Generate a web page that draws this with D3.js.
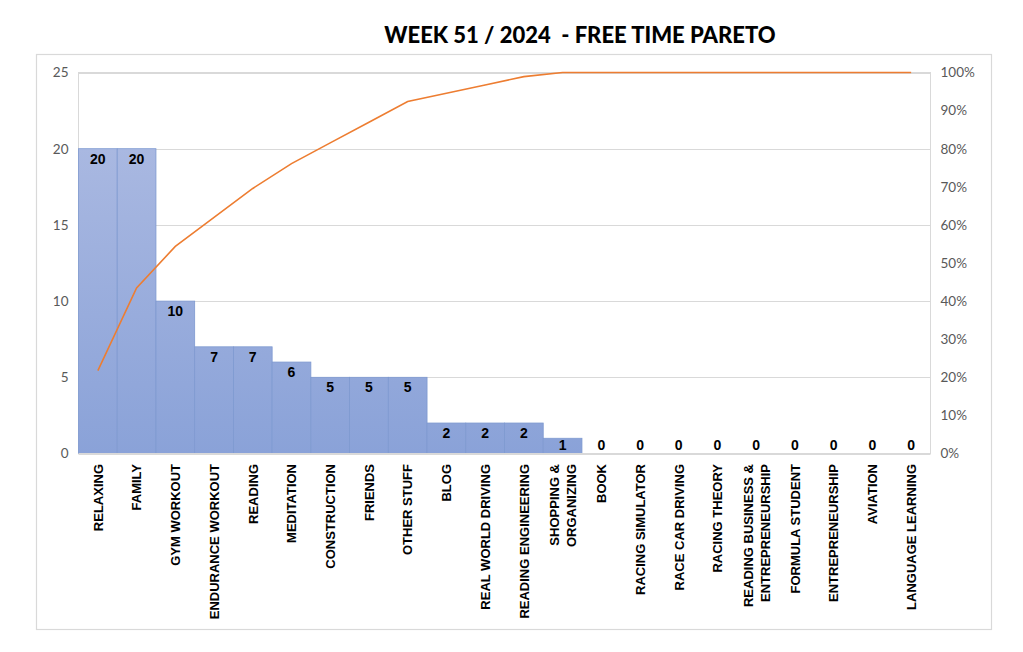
<!DOCTYPE html>
<html><head><meta charset="utf-8">
<script src="https://cdn.jsdelivr.net/npm/d3@7/dist/d3.min.js"></script>
<style>
body{margin:0;background:#fff;}
svg{display:block;}
</style></head><body>
<svg id="c" width="1023" height="652"></svg>
<script>
const categories = ["RELAXING","FAMILY","GYM WORKOUT","ENDURANCE WORKOUT","READING","MEDITATION","CONSTRUCTION","FRIENDS","OTHER STUFF","BLOG","REAL WORLD DRIVING","READING ENGINEERING","SHOPPING & ORGANIZING","BOOK","RACING SIMULATOR","RACE CAR DRIVING","RACING THEORY","READING BUSINESS & ENTREPRENEURSHIP","FORMULA STUDENT","ENTREPRENEURSHIP","AVIATION","LANGUAGE LEARNING"];
const hours = [20,20,10,7,7,6,5,5,5,2,2,2,1,0,0,0,0,0,0,0,0,0];
const leftTicks = [0,5,10,15,20,25];
const rightTicks = [0,0.1,0.2,0.3,0.4,0.5,0.6,0.7,0.8,0.9,1.0];
const title = "WEEK 51 / 2024  - FREE TIME PARETO";

const total = d3.sum(hours);
let acc = 0;
const cumulative = hours.map(v => (acc += v) / total);

const svg = d3.select("#c");
const M = {left:78.5, right:930.5, top:72.5, bottom:453.5};

svg.append("rect").attr("x",36.5).attr("y",54.5).attr("width",955).attr("height",575)
  .attr("fill","none").attr("stroke","#d9d9d9").attr("stroke-width",1.2);

svg.append("text").attr("x",580).attr("y",43).attr("text-anchor","middle")
  .style("font-family","Lato, sans-serif").style("font-size","22px").style("font-weight","900")
  .attr("fill","#000").style("white-space","pre")
  .text(title);

const x = d3.scaleBand().domain(categories).range([M.left, M.right]).padding(0);
const y = d3.scaleLinear().domain([0,25]).range([M.bottom, M.top]);
const y2 = d3.scaleLinear().domain([0,1]).range([M.bottom, M.top]);

svg.append("rect").attr("x",M.left).attr("y",M.top).attr("width",M.right-M.left).attr("height",M.bottom-M.top)
  .attr("fill","none").attr("stroke","#d9d9d9");

svg.append("g").selectAll("line").data(leftTicks).join("line")
  .attr("x1",M.left).attr("x2",M.right).attr("y1",d=>Math.round(y(d))+0.5).attr("y2",d=>Math.round(y(d))+0.5)
  .attr("stroke","#d9d9d9");

const gl = svg.append("g").attr("transform",`translate(${M.left-10},0)`)
  .call(d3.axisLeft(y).tickValues(leftTicks).tickSize(0).tickPadding(0));
gl.select(".domain").remove();
gl.selectAll("text").style("font-size","13.5px").attr("fill","#595959").style("font-family","Lato, sans-serif");

const gr = svg.append("g").attr("transform",`translate(${M.right+10},0)`)
  .call(d3.axisRight(y2).tickValues(rightTicks).tickSize(0).tickPadding(0).tickFormat(d3.format(".0%")));
gr.select(".domain").remove();
gr.selectAll("text").style("font-size","13.5px").attr("fill","#595959").style("font-family","Lato, sans-serif");

const defs = svg.append("defs");
const grad = defs.append("linearGradient").attr("id","bg").attr("gradientUnits","userSpaceOnUse")
  .attr("x1",0).attr("x2",0).attr("y1",y(20)).attr("y2",y(0));
grad.append("stop").attr("offset","0%").attr("stop-color","#a9b8e1");
grad.append("stop").attr("offset","100%").attr("stop-color","#8aa2d8");

svg.append("g").selectAll("rect").data(hours).join("rect")
  .attr("x",(d,i)=>x(categories[i])).attr("width",x.bandwidth())
  .attr("y",d=>y(d)).attr("height",d=>y(0)-y(d))
  .attr("fill","url(#bg)").attr("stroke",d=>d>0?"#7e99d0":"none").attr("stroke-width",0.8);

svg.append("line").attr("x1",M.left).attr("x2",M.right).attr("y1",M.bottom).attr("y2",M.bottom).attr("stroke","#d9d9d9");

svg.append("g").selectAll("text").data(hours).join("text")
  .attr("x",(d,i)=>x(categories[i])+x.bandwidth()/2)
  .attr("y",d=>Math.min(y(d)+15, y(0)-4))
  .attr("text-anchor","middle").attr("fill","#000")
  .style("font-family","'Liberation Sans', Arial, sans-serif").style("font-size","14px").style("font-weight","700")
  .text(d=>d);

const line = d3.line().x((d,i)=>x(categories[i])+x.bandwidth()/2).y(d=>y2(d));
svg.append("path").datum(cumulative).attr("d",line).attr("fill","none")
  .attr("stroke","#ed7d31").attr("stroke-width",1.6);

const cl = svg.append("g").selectAll("g").data(categories).join("g")
  .attr("transform",(d,i)=>`translate(${x(categories[i])+x.bandwidth()/2},464) rotate(-90)`);
cl.each(function(d){
  const g = d3.select(this);
  let lines = [d];
  if (d === "SHOPPING & ORGANIZING") lines = ["SHOPPING &","ORGANIZING"];
  if (d === "READING BUSINESS & ENTREPRENEURSHIP") lines = ["READING BUSINESS &","ENTREPRENEURSHIP"];
  const lh = 17;
  lines.forEach((t,j)=>{
    g.append("text").attr("x",0).attr("y",(j-(lines.length-1)/2)*lh+4.8)
      .attr("text-anchor","end").attr("fill","#000")
      .style("font-family","'Liberation Sans', Arial, sans-serif").style("font-size","13px").style("font-weight","700")
      .text(t);
  });
});
</script></body></html>
